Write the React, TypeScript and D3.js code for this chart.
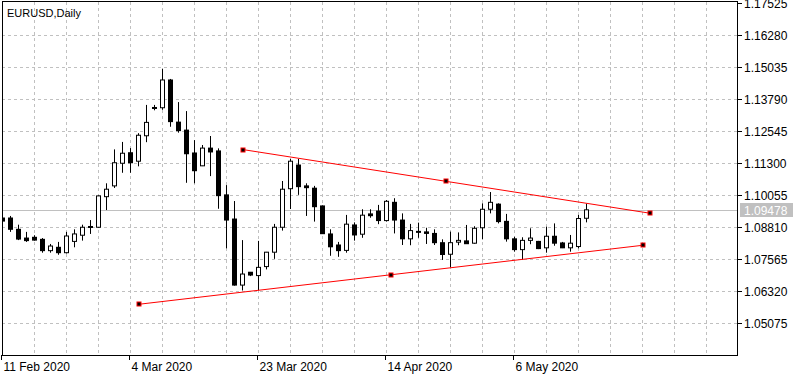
import React from "react";
import * as d3 from "d3";

const opens = [1.0916,1.0916,1.0872,1.0838,1.0841,1.0833,1.0789,1.0802,1.0781,1.0825,1.0849,1.0882,1.0880,1.0999,1.1041,1.1129,1.1170,1.1137,1.1236,1.1344,1.1345,1.1453,1.1289,1.1258,1.1169,1.1119,1.1188,1.1177,1.1006,1.0912,1.0655,1.0705,1.0692,1.0727,1.0783,1.0880,1.1030,1.1122,1.1041,1.1032,1.0963,1.0854,1.0811,1.0790,1.0889,1.0853,1.0932,1.0943,1.0906,1.0977,1.0908,1.0835,1.0864,1.0862,1.0856,1.0820,1.0775,1.0822,1.0827,1.0818,1.0878,1.0950,1.0970,1.0903,1.0835,1.0793,1.0829,1.0825,1.0800,1.0845,1.0819,1.0800,1.0805,1.0915];
const highs = [1.0922,1.0924,1.0890,1.0862,1.0849,1.0838,1.0815,1.0823,1.0862,1.0872,1.0890,1.0908,1.1004,1.1051,1.1183,1.1212,1.1188,1.1246,1.1356,1.1356,1.1496,1.1457,1.1367,1.1332,1.1219,1.1200,1.1235,1.1187,1.1044,1.0982,1.0830,1.0706,1.0827,1.0784,1.0893,1.1060,1.1146,1.1146,1.1051,1.1041,1.0965,1.0872,1.0823,1.0928,1.0899,1.0950,1.0950,1.0967,1.0986,1.0993,1.0934,1.0893,1.0898,1.0878,1.0872,1.0833,1.0863,1.0860,1.0889,1.0884,1.0973,1.1017,1.0973,1.0932,1.0843,1.0841,1.0876,1.0827,1.0882,1.0895,1.0823,1.0850,1.0928,1.0972];
const lows = [1.0900,1.0862,1.0830,1.0823,1.0828,1.0781,1.0781,1.0773,1.0778,1.0802,1.0828,1.0854,1.0878,1.0947,1.1033,1.1092,1.1092,1.1117,1.1211,1.1335,1.1337,1.1271,1.1248,1.1053,1.1051,1.1118,1.1079,1.0952,1.0798,1.0653,1.0634,1.0690,1.0635,1.0716,1.0757,1.0867,1.0951,1.1006,1.0924,1.0902,1.0854,1.0769,1.0765,1.0781,1.0828,1.0839,1.0917,1.0892,1.0902,1.0856,1.0811,1.0810,1.0839,1.0815,1.0811,1.0753,1.0724,1.0810,1.0815,1.0816,1.0833,1.0934,1.0895,1.0824,1.0785,1.0753,1.0814,1.0795,1.0781,1.0808,1.0799,1.0785,1.0798,1.0899];
const closes = [1.0904,1.0872,1.0834,1.0828,1.0830,1.0789,1.0807,1.0781,1.0846,1.0854,1.0880,1.0883,1.1002,1.1028,1.1131,1.1168,1.1131,1.1238,1.1288,1.1346,1.1453,1.1291,1.1256,1.1166,1.1100,1.1188,1.1173,1.1003,1.0908,1.0655,1.0698,1.0694,1.0724,1.0783,1.0880,1.1028,1.1137,1.1038,1.1034,1.0960,1.0855,1.0804,1.0789,1.0892,1.0850,1.0927,1.0925,1.0906,1.0981,1.0908,1.0835,1.0867,1.0862,1.0856,1.0820,1.0774,1.0820,1.0829,1.0816,1.0876,1.0950,1.0977,1.0902,1.0835,1.0793,1.0829,1.0838,1.0797,1.0845,1.0818,1.0800,1.0818,1.0914,1.09478];

const priceTicks = [1.17525,1.1628,1.15035,1.1379,1.12545,1.113,1.10055,1.0881,1.07565,1.0632,1.05075];
const timeTickBars = [0,16,32,48,64];
const timeTickLabels = ["11 Feb 2020","4 Mar 2020","23 Mar 2020","14 Apr 2020","6 May 2020"];
const currentPrice = 1.09478;

// trendlines: [barIndex, price]
const upperLine = [[30,1.11825],[81,1.09343]];
const lowerLine = [[17,1.05802],[80,1.08098]];

const W = 807, H = 379;
const L = 2, R = 737, T = 2, B = 355;
const FONT = "'Liberation Sans', Arial, sans-serif";

export default function App() {
  const x = d3.scaleLinear().domain([0, 91]).range([2.5, 730.5]);
  const y = d3.scaleLinear().domain([1.17525, 1.05075]).range([3, 323]);
  const gridBars = d3.range(4, 92, 4);
  const cy = y(currentPrice);

  const handle = (px: number, py: number, k: string) => (
    <g key={k}>
      <rect x={Math.round(px) - 2.5} y={Math.round(py) - 2.5} width={5} height={5} fill="#ff0000" />
      <rect x={Math.round(px) - 1.5} y={Math.round(py) - 1.5} width={3} height={3} fill="#000" />
    </g>
  );
  const tline = (pts: number[][], k: string) => {
    const [a, b] = pts;
    const x1 = x(a[0]), y1 = y(a[1]), x2 = x(b[0]), y2 = y(b[1]);
    return (
      <g key={k}>
        <line x1={x1} y1={y1} x2={x2} y2={y2} stroke="#ff0000" strokeWidth={1} />
        {handle(x1, y1, k + "a")}
        {handle((x1 + x2) / 2, (y1 + y2) / 2, k + "m")}
        {handle(x2, y2, k + "b")}
      </g>
    );
  };

  return (
    <svg width={W} height={H} style={{ position: "fixed", left: 0, top: 0, background: "#fff" }}>
      <defs>
        <clipPath id="plot"><rect x={L} y={T} width={R - L} height={B - T} /></clipPath>
      </defs>
      <rect x={0} y={0} width={W} height={H} fill="#fff" />
      <g clipPath="url(#plot)">
        {priceTicks.slice(1).map((p, i) => (
          <line key={"hg" + i} x1={L} x2={R} y1={Math.round(y(p)) + 0.5} y2={Math.round(y(p)) + 0.5} stroke="#c0c0c0" strokeDasharray="3,3" />
        ))}
        {gridBars.map((b) => (
          <line key={"vg" + b} x1={Math.floor(x(b)) + 0.5} x2={Math.floor(x(b)) + 0.5} y1={T} y2={B} stroke="#c0c0c0" strokeDasharray="3,3" />
        ))}
        <line x1={L} x2={R} y1={Math.round(cy) + 0.5} y2={Math.round(cy) + 0.5} stroke="#c0c0c0" />
        {opens.map((o, i) => {
          const c = closes[i];
          const cx = Math.floor(x(i)) + 0.5;
          const top = y(Math.max(o, c)), bot = y(Math.min(o, c));
          const bull = c >= o;
          const bh = Math.max(bot - top, 1);
          return (
            <g key={"c" + i}>
              <line x1={cx} x2={cx} y1={y(highs[i])} y2={y(lows[i])} stroke="#000" />
              {bull ? (
                <rect x={cx - 2} y={top} width={4} height={bh} fill="#fff" stroke="#000" />
              ) : (
                <rect x={cx - 2.5} y={top - 0.5} width={5} height={bh + 1} fill="#000" />
              )}
            </g>
          );
        })}
        {tline(upperLine, "u")}
        {tline(lowerLine, "l")}
      </g>
      <text x={7} y={17} fontFamily={FONT} fontSize={11} fill="#000">EURUSD,Daily</text>
      <rect x={L + 0.5} y={T - 0.5} width={R - L} height={B - T + 1} fill="none" stroke="#000" />
      {priceTicks.map((p, i) => {
        const yy = Math.round(y(p)) + 0.5;
        return (
          <g key={"pt" + i}>
            <line x1={R} x2={R + 5} y1={yy} y2={yy} stroke="#000" />
            <text x={R + 7} y={yy + 4.5} fontFamily={FONT} fontSize={12} fill="#000">{p.toFixed(5)}</text>
          </g>
        );
      })}
      <rect x={740} y={Math.round(cy) - 7} width={53} height={14} fill="#c0c0c0" />
      <text x={R + 7} y={Math.round(cy) + 5} fontFamily={FONT} fontSize={12} fill="#fff">{currentPrice.toFixed(5)}</text>
      {timeTickBars.map((b, i) => {
        const xx = Math.floor(x(b)) - 0.5;
        return (
          <g key={"tt" + i}>
            <line x1={xx} x2={xx} y1={B} y2={B + 5} stroke="#000" />
            <text x={xx + 2} y={371} fontFamily={FONT} fontSize={12} fill="#000">{timeTickLabels[i]}</text>
          </g>
        );
      })}
    </svg>
  );
}
